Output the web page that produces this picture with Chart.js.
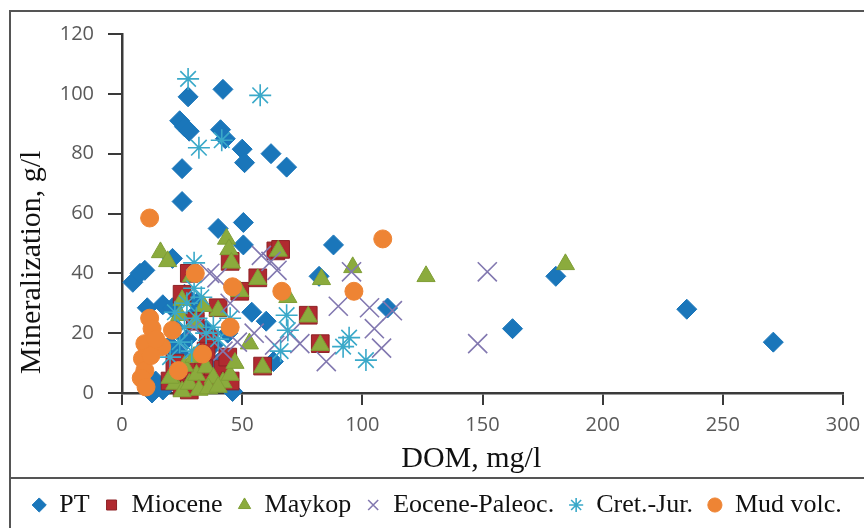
<!DOCTYPE html>
<html lang="en">
<head>
<meta charset="UTF-8">
<title>Mineralization vs DOM</title>
<script src="https://cdn.jsdelivr.net/npm/chart.js"></script>
<style>
    body { margin: 0; background: #fff; }
    #wrap { position: relative; width: 864px; height: 528px; overflow: hidden; }
    #frame {
        position: absolute; left: 9px; top: 10px; width: 900px; height: 600px;
        border-left: 2px solid #555; border-top: 2px solid #555;
    }
    #sep { position: absolute; left: 9px; top: 477px; width: 900px; height: 0; border-top: 2px solid #555; }
    #c { position: absolute; left: 0; top: 0; }
</style>
</head>
<body>
<div id="wrap">
    <div id="frame"></div>
    <div id="sep"></div>
    <canvas id="c" width="864" height="528"></canvas>
</div>

<script>
    // DOM, mg/l (x) and mineralization, g/l (y) for each group
    const ptDom = [27.5, 42, 24, 26, 28, 41, 43, 50, 51, 62, 68.5, 25, 25, 40, 50.5, 88, 50.5, 21,
        4.5, 7.5, 9.5, 10.5, 17, 21, 54, 60, 63, 82, 110.5, 180.5, 162.5, 235, 271,
        12.5, 46, 17, 14, 22, 27, 30, 33, 38, 24, 35, 29, 40, 44, 20, 26, 31];
    const ptMin = [99, 101.5, 91, 89, 87.5, 88, 85, 81.5, 77, 80, 75.5, 75, 64, 55, 57, 49.5, 49.5, 45,
        37, 40, 41, 28.5, 29.5, 28.5, 27, 24, 10.5, 39, 28.4, 39, 21.5, 28, 17,
        0, 0.5, 1, 4, 22, 18, 26, 12, 16, 13, 21, 6, 10, 20, 16, 33, 30];

    const mioDom = [64, 66, 45, 28, 25, 49, 56.5, 40, 77.5, 82.5, 58.5, 30.5, 36, 20, 25, 30, 34, 38, 42, 45, 28, 33, 22, 44, 35];
    const mioMin = [47.5, 48, 44, 40, 33, 34, 38.5, 28.5, 26, 16.5, 9, 24, 18, 4, 2, 7, 9, 5, 8, 4, 1, 3, 10, 12, 14];

    const mayDom = [16, 19, 43.5, 44.5, 45.5, 29, 25, 49, 56.5, 65, 69, 83, 96, 126.5, 184.5, 77.5, 82.5, 58.5, 40, 53,
        30.5, 22, 25, 28, 31, 35, 38, 42, 45, 32, 20, 26, 36, 40, 30, 47, 24, 34];
    const mayMin = [47, 44, 51.5, 48, 43.5, 39, 31, 34, 38, 47.5, 32, 38, 42, 39, 43, 25.5, 16, 8.5, 27.5, 16.5,
        23.5, 3, 0.5, 3, 6, 8.5, 5, 3.5, 6, 1, 5, 9, 1.5, 2, 12, 10, 26, 29];

    const eocDom = [152, 148, 95.5, 90, 103, 105, 108, 112.5, 85, 74, 63.5, 64.5, 58, 36.5, 39.5, 70, 48, 42, 55, 30, 45, 62];
    const eocMin = [40.5, 16.5, 40.5, 29, 28.5, 21.5, 15, 27.5, 10.5, 16.5, 16, 41, 46, 40, 38.5, 20, 17, 14, 20, 22, 30, 44];

    const cjDom = [27.5, 57.5, 32, 41.5, 30, 27, 31, 35, 24, 29, 40, 33, 30, 38, 26, 68.5, 69, 94.5, 92, 101.5, 66, 22, 45, 20];
    const cjMin = [105, 99.5, 82, 84.5, 43.5, 30, 25, 20, 17, 14, 18, 32, 35, 22, 22, 26, 21, 18.5, 15.5, 11, 14, 27, 25, 12];

    const mudDom = [11.5, 108.5, 96.5, 66.5, 30.5, 46, 45, 11.5, 12.5, 21, 9.5, 16.5, 8.5, 9.5, 8, 23.5, 33.5, 12, 10, 14];
    const mudMin = [58.5, 51.5, 34, 34, 40, 35.5, 22, 25, 21.5, 21, 16.5, 15.5, 11.5, 7.5, 5, 7.5, 13, 12.5, 2, 18];

    const seriesNames = ['PT', 'Miocene', 'Maykop', 'Eocene-Paleoc.', 'Cret.-Jur.', 'Mud volc.'];
    const xTicksMax = 300;
    const yTicksMax = 120;

    function pts(xs, ys) {
        return xs.map((x, i) => ({ x: x, y: ys[i] }));
    }

    const serif = "'Liberation Serif', 'Times New Roman', serif";
    const sans = "'Open Sans', sans-serif";

    new Chart(document.getElementById('c'), {
        type: 'scatter',
        data: {
            datasets: [
                { label: seriesNames[0], data: pts(ptDom, ptMin), order: 6, pointStyle: 'rectRot', pointRadius: 10,
                  backgroundColor: '#1a76ba', borderColor: '#1a76ba', borderWidth: 1 },
                { label: seriesNames[1], data: pts(mioDom, mioMin), order: 5, pointStyle: 'rect', pointRadius: 12.5,
                  backgroundColor: '#b02a30', borderColor: '#8e2226', borderWidth: 1 },
                { label: seriesNames[2], data: pts(mayDom, mayMin), order: 4, pointStyle: 'triangle', pointRadius: 10.5,
                  backgroundColor: '#8bab3d', borderColor: '#7f9e36', borderWidth: 1 },
                { label: seriesNames[3], data: pts(eocDom, eocMin), order: 3, pointStyle: 'crossRot', pointRadius: 13.5,
                  backgroundColor: '#8278b0', borderColor: '#8278b0', borderWidth: 1.6 },
                { label: seriesNames[4], data: pts(cjDom, cjMin), order: 2, pointStyle: 'star', pointRadius: 11,
                  backgroundColor: '#3aa9c9', borderColor: '#3aa9c9', borderWidth: 1.6 },
                { label: seriesNames[5], data: pts(mudDom, mudMin), order: 1, pointStyle: 'circle', pointRadius: 9,
                  backgroundColor: '#ee8434', borderColor: '#ee8434', borderWidth: 1 }
            ]
        },
        options: {
            responsive: false,
            animation: false,
            clip: false,
            layout: { padding: { top: 34, right: 0, left: 10, bottom: 0 } },
            plugins: {
                tooltip: { enabled: false },
                legend: {
                    position: 'bottom',
                    labels: {
                        usePointStyle: true,
                        boxWidth: 14,
                        boxHeight: 10,
                        padding: 15,
                        color: '#111',
                        font: { family: serif, size: 26 },
                        sort: (a, b) => a.datasetIndex - b.datasetIndex
                    }
                }
            },
            scales: {
                x: {
                    type: 'linear',
                    min: 0, max: xTicksMax,
                    afterFit: s => { s.height = 84; s.paddingRight = 21; s.paddingLeft = 0; },
                    border: { color: '#3a3a3a', width: 2.5 },
                    grid: { drawOnChartArea: false, drawTicks: true, tickLength: 12, color: '#3a3a3a', lineWidth: 2 },
                    ticks: { stepSize: 50, padding: 8, color: '#595959', font: { family: sans, size: 20 } },
                    title: { display: true, text: 'DOM, mg/l\u00a0\u00a0\u00a0', color: '#111',
                             font: { family: serif, size: 30 }, padding: { top: 0, bottom: 0 } }
                },
                y: {
                    min: 0, max: yTicksMax,
                    afterFit: s => { s.width = 112; },
                    border: { color: '#3a3a3a', width: 2.5 },
                    grid: { drawOnChartArea: false, drawTicks: true, tickLength: 14, color: '#3a3a3a', lineWidth: 2 },
                    ticks: { stepSize: 20, padding: 14, color: '#595959', font: { family: sans, size: 20 } },
                    title: { display: true,
                             text: 'Mineralization, g/l' + '\u00a0'.repeat(13),
                             color: '#111', font: { family: serif, size: 30 }, padding: { top: 4, bottom: 0 } }
                }
            }
        }
    });
</script>
</body>
</html>
